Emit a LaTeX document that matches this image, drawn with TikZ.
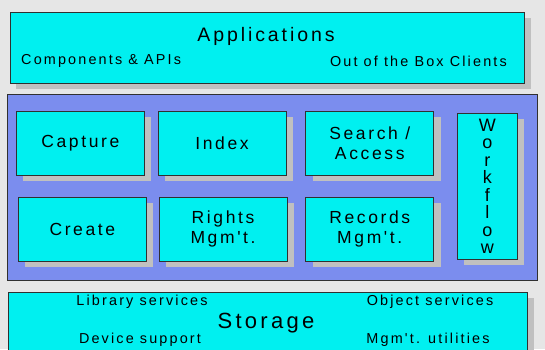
\documentclass[tikz,border=0pt]{standalone}
\usepackage{fontspec}
\setmainfont{Liberation Sans}
\newfontfamily\tracked[LetterSpace=15]{Liberation Sans}
\usetikzlibrary{positioning,shadows}

\definecolor{pagegray}{HTML}{E6E6E6}
\definecolor{panelblue}{HTML}{7B8DEE}
\definecolor{boxcyan}{HTML}{00F0F0}
\definecolor{shadowgray}{HTML}{C0C0C0}
\definecolor{edgegray}{HTML}{303030}

\newcommand\headfont{\tracked\fontsize{19.5}{21}\selectfont}
\newcommand\modfont{\tracked\fontsize{17.5}{20}\selectfont}
\newcommand\notefont{\tracked\fontsize{14.4}{16}\selectfont}

\begin{document}
\begin{tikzpicture}[x=1pt,y=-1pt,
    shade box/.style={draw=edgegray,fill=boxcyan,line width=0.7pt,inner sep=0pt,
        drop shadow={shadow xshift=7pt,shadow yshift=-6pt,fill=shadowgray,opacity=1}},
    layer/.style={shade box,anchor=north west,
        drop shadow={shadow xshift=6pt,shadow yshift=-6pt,fill=shadowgray,opacity=1}},
    module/.style={shade box,minimum width=128pt,minimum height=64pt,align=center,font=\modfont},
    panel/.style={draw=edgegray,fill=panelblue,line width=0.8pt,anchor=north west,inner sep=0pt},
    note/.style={font=\notefont,inner sep=0pt},
    head/.style={font=\headfont,inner sep=0pt}
]

% page and clipping
\path[use as bounding box,fill=pagegray] (0,0) rectangle (545,349);
\clip (0,0) rectangle (545,349);

% Applications layer
\node[layer,minimum width=514pt,minimum height=71pt] (apps) at (10,12) {};
\node[head] (apps title) at (266,36) {Applications};
\node[note,anchor=west] (apis) at (21,61) {Components \& APIs};
\node[note,anchor=east] (clients) at (507,61) {Out of the Box Clients};

% Services panel
\node[panel,minimum width=530pt,minimum height=186pt] (services) at (7,94) {};

% top row
\node[module,anchor=north west] (capture) at (16,111) {Capture};
\node[module,right=13pt of capture] (index) {Index};
\node[module,right=19pt of index] (search) {Search /\\Access};

% bottom row
\node[module,anchor=north west] (create) at (18,197) {Create};
\node[module,right=12pt of create] (rights) {Rights\\Mgm't.};
\node[module,right=18pt of rights] (records) {Records\\Mgm't.};

% Workflow column
\node[module,anchor=north west,minimum width=60pt,minimum height=146pt,
      font=\tracked\fontsize{18}{17.5}\selectfont] (workflow) at (457,113)
      {W\\o\\r\\k\\f\\l\\o\\w};

% Storage layer
\node[layer,minimum width=519pt,minimum height=70pt] (storage) at (8,292) {};
\node[head,font=\tracked\fontsize{22}{24}\selectfont] (storage title) at (266,323) {Storage};
\node[note] (library) at (142,302) {Library services};
\node[note] (device) at (140,340) {Device support};
\node[note] (objects) at (430,302) {Object services};
\node[note] (utilities) at (428,340) {Mgm't. utilities};

\end{tikzpicture}
\end{document}
